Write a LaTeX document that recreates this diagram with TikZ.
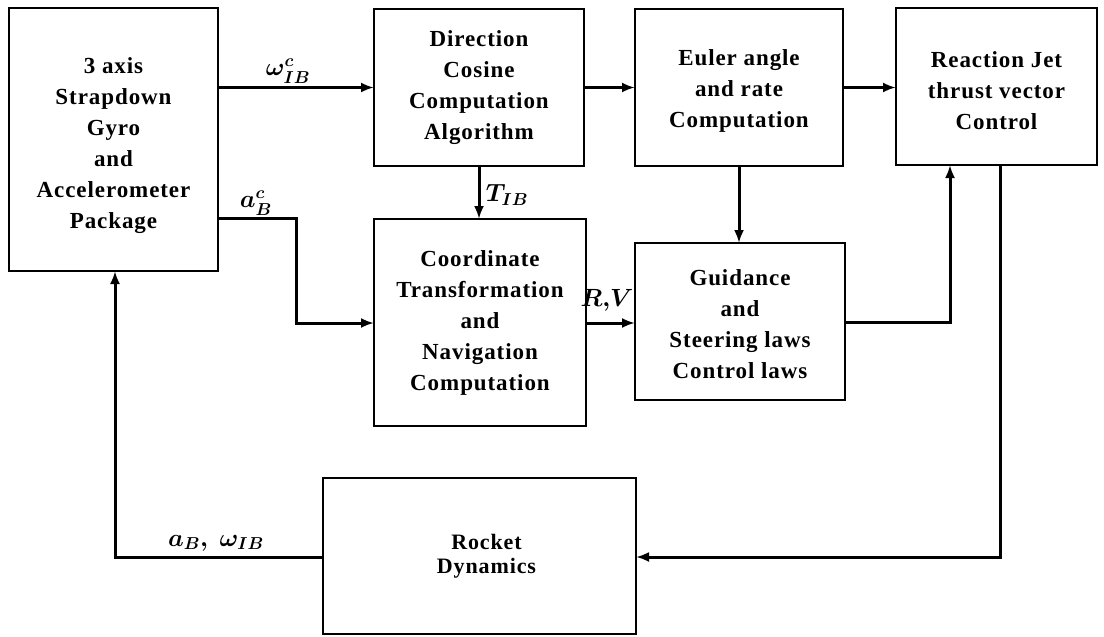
\documentclass[tikz,border=0pt]{standalone}
\usetikzlibrary{arrows.meta}
\usepackage{fontspec}
\setmainfont[LetterSpace=4]{Liberation Serif}
\usepackage{amsmath,bm}
\begin{document}
\begin{tikzpicture}[x=1pt,y=-1pt,
  box/.style={draw,line width=2.2pt,inner sep=0pt,outer sep=0pt,align=center,
    font=\fontsize{23}{31}\selectfont\bfseries},
  txt/.style={inner sep=0pt,align=center,font=\fontsize{23}{31}\selectfont\bfseries},
  arr/.style={line width=3pt,-{Latex[length=13pt,width=10pt]}},
  lab/.style={inner sep=0pt,font=\boldmath\fontsize{23}{26}\selectfont}]
\useasboundingbox (0,0) rectangle (1104,637);
\node[box,minimum width=209,minimum height=263,
  label={[txt,yshift=-6pt]center:{3 axis\\Strapdown\\Gyro\\and\\Accelerometer\\Package}}]
  (gyro) at (113.5,139.5) {};
\node[box,minimum width=210,minimum height=157] (dc) at (479,87.5)
  {Direction\\Cosine\\Computation\\Algorithm};
\node[box,minimum width=208,minimum height=157,
  label={[txt,yshift=-3pt]center:{Euler angle\\and rate\\Computation}}]
  (eu) at (739,87.5) {};
\node[box,minimum width=201,minimum height=157,
  label={[txt,yshift=-4pt]center:{Reaction Jet\\thrust vector\\Control}}]
  (rj) at (996.5,86.5) {};
\node[box,minimum width=212,minimum height=207] (ct) at (480,322.5)
  {Coordinate\\Transformation\\and\\Navigation\\Computation};
\node[box,minimum width=210,minimum height=157,
  label={[txt,yshift=-3pt]center:{Guidance\\and\\Steering laws\\Control laws}}]
  (gd) at (740,321.5) {};
\node[box,minimum width=313,minimum height=156,
  font=\fontsize{22}{24}\selectfont\bfseries] (rd) at (479.5,556)
  {\hspace*{14pt}Rocket\\\hspace*{14pt}Dynamics};
\coordinate (rv) at (0,323);
\coordinate (ab) at (296,218);
\coordinate (g1) at (950,322);
\coordinate (r1) at (1000,557);
\coordinate (l1) at (115,557);
\draw[arr] (gyro.east |- dc.west) -- (dc.west);
\draw[arr] (dc.east) -- (eu.west);
\draw[arr] (eu.east) -- (eu.east -| rj.west);
\draw[arr] (dc.south) -- (dc.south |- ct.north);
\draw[arr] (eu.south) -- (eu.south |- gd.north);
\draw[arr] (ct.east |- rv) -- (gd.west |- rv);
\draw[arr] (gyro.east |- ab) -- (ab) |- (ct.west |- rv);
\draw[arr] (gd.east |- g1) -| (rj.south -| g1);
\draw[arr] (rj.south -| r1) |- (rd.east |- r1);
\draw[arr] (rd.west |- l1) -| (gyro.south -| l1);
\node[lab] (lw) at (288,71) {$\omega^{c}_{IB}$};
\node[lab] (la) at (256,203) {$a^{c}_{B}$};
\node[lab] (lt) at (507,195) {$T_{IB}$};
\node[lab] (lr) at (607,300) {$R{,}V$};
\node[lab] (lf) at (216,543) {$a_{B},\ \omega_{IB}$};
\end{tikzpicture}
\end{document}
